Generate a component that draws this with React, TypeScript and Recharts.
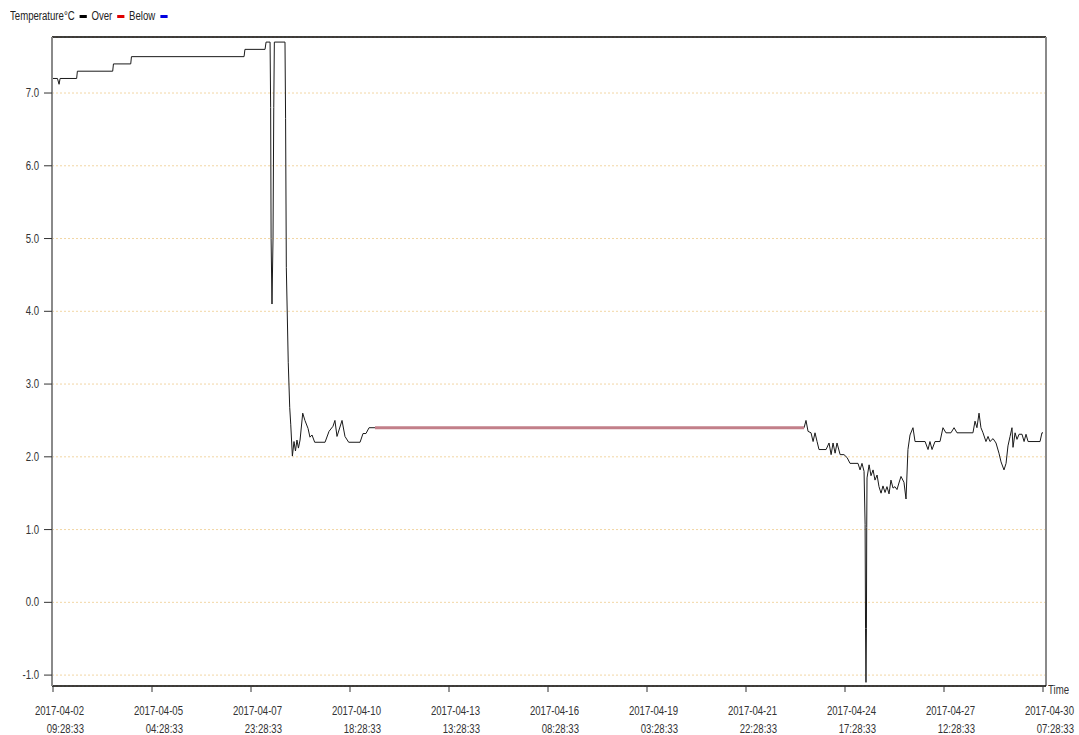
import { LineChart, Line, XAxis, YAxis, CartesianGrid, ReferenceLine } from 'recharts';

// hours since 2017-04-02 09:28:33
const hours = [
  0, 3, 4.1, 4.8, 16, 16.5, 40.4, 40.9, 52.6, 53.1, 129.3, 129.9, 143.5, 144.2, 146.9,
  147.3, 147.6, 148.2, 148.9, 149.4, 149.8, 157.0, 157.4, 157.9, 159.2, 160.2, 160.9, 162.0,
  163.1, 164.1, 165.1, 166.1, 167.2, 169.0, 170.5, 172.6, 173.9, 175.3, 177.1, 184.1, 186.8,
  189.5, 190.8, 192.2, 195.6, 197.6, 200.1, 207.8, 209.8, 211.8, 213.9, 217.9, 508.3,
  509.6, 511.0, 513.0, 514.4, 515.7, 517.1, 518.4, 523.2, 525.2, 526.6, 527.9, 529.3, 530.6,
  532.7, 535.3, 537.4, 539.4, 544.8, 546.2, 547.5, 548.9, 549.6, 549.9, 550.2, 550.5, 550.7,
  550.9, 552.3, 553.6, 555.0, 556.3, 557.7, 559.0, 560.4, 561.7, 563.1, 564.4, 565.8, 567.1,
  568.5, 569.8, 571.2, 572.5, 573.9, 575.9, 577.3, 578.6, 580.0, 582.0, 583.4, 590.2, 592.2,
  593.5, 594.9, 596.9, 600.3, 602.3, 604.3, 607.7, 609.8, 611.8, 622.6, 624.0, 625.3, 626.7,
  628.0, 629.4, 631.4, 632.8, 634.1, 636.2, 638.2, 640.2, 641.6, 643.6, 645.0, 646.3, 647.7,
  649.0, 649.7, 651.1, 652.4, 653.8, 655.8, 657.2, 658.5, 659.9, 668.0, 669.3, 670,
];

const temps = [
  7.2, 7.2, 7.12, 7.2, 7.2, 7.3, 7.3, 7.4, 7.4, 7.5, 7.5, 7.6, 7.6, 7.7, 7.7,
  6.8, 5.0, 4.1, 5.0, 6.8, 7.7, 7.7, 6.65, 4.6, 3.3, 2.68, 2.44, 2.01,
  2.21, 2.08, 2.23, 2.12, 2.23, 2.6, 2.5, 2.39, 2.27, 2.3, 2.2, 2.2, 2.35,
  2.42, 2.5, 2.28, 2.5, 2.28, 2.2, 2.2, 2.32, 2.32, 2.4, 2.4, 2.4,
  2.5, 2.35, 2.33, 2.21, 2.33, 2.21, 2.1, 2.1, 2.19, 2.03, 2.19, 2.05, 2.19,
  2.03, 2.03, 1.99, 1.91, 1.91, 1.82, 1.91, 1.8, 1.07, -0.36, -1.1, -0.36, 1.03,
  1.71, 1.89, 1.74, 1.82, 1.68, 1.75, 1.59, 1.5, 1.6, 1.51, 1.59, 1.49, 1.68,
  1.57, 1.59, 1.55, 1.64, 1.73, 1.65, 1.42, 2.1, 2.3, 2.4, 2.21, 2.21, 2.1,
  2.21, 2.1, 2.21, 2.21, 2.4, 2.33, 2.33, 2.4, 2.33, 2.33, 2.49, 2.4, 2.6,
  2.4, 2.33, 2.21, 2.28, 2.21, 2.25, 2.19, 2.05, 1.93, 1.82, 1.91, 2.15, 2.28,
  2.4, 2.13, 2.33, 2.24, 2.31, 2.31, 2.21, 2.31, 2.21, 2.21, 2.33, 2.33,
];

// highlighted flat stretch
const overHours = [217.9, 508.3];
const overTemps = [2.4, 2.4];

const tickHours = [0, 67, 134, 201, 268, 335, 402, 469, 536, 603, 670];
const tickDates = ['2017-04-02', '2017-04-05', '2017-04-07', '2017-04-10', '2017-04-13', '2017-04-16', '2017-04-19', '2017-04-21', '2017-04-24', '2017-04-27', '2017-04-30'];
const tickTimes = ['09:28:33', '04:28:33', '23:28:33', '18:28:33', '13:28:33', '08:28:33', '03:28:33', '22:28:33', '17:28:33', '12:28:33', '07:28:33'];
const yTicks = [-1, 0, 1, 2, 3, 4, 5, 6, 7];

const data = hours.map((h, i) => ({ h, t: temps[i] }));
const overData = overHours.map((h, i) => ({ h, t: overTemps[i] }));

const FONT = "'Liberation Sans Narrow', 'Arial Narrow', 'Liberation Sans', Arial, sans-serif";
const SQUEEZE = 0.8; // no narrow font installed, squeeze horizontally

function TimeTick(props: any) {
  const { x, y, index } = props;
  return (
    <g fontSize={12} fill="#333" fontFamily={FONT}>
      <text transform={`translate(${x + 31},${y + 21}) scale(${SQUEEZE},1)`} textAnchor="end">{tickDates[index]}</text>
      <text transform={`translate(${x + 31},${y + 39}) scale(${SQUEEZE},1)`} textAnchor="end">{tickTimes[index]}</text>
    </g>
  );
}

function TempTick(props: any) {
  const { x, y, payload } = props;
  return (
    <text transform={`translate(${x},${y + 4}) scale(${SQUEEZE},1)`} textAnchor="end" fontSize={12} fill="#333" fontFamily={FONT}>
      {Number(payload.value).toFixed(1)}
    </text>
  );
}

function Dash({ color }: { color: string }) {
  return <span style={{ display: 'inline-block', width: 9, height: 3, background: color, margin: '0 6px', verticalAlign: 'middle' }} />;
}

export default function App() {
  return (
    <div style={{ position: 'absolute', left: 0, top: 0, width: 1079, height: 735, background: '#fff', fontFamily: FONT }}>
      <div style={{ position: 'absolute', left: 10, top: 9, fontSize: 12, color: '#222', whiteSpace: 'nowrap', transform: `scaleX(${SQUEEZE})`, transformOrigin: 'left top' }}>
        Temperature°C<Dash color="#000" />Over<Dash color="#e00000" />Below<Dash color="#0000e0" />
      </div>
      <div style={{ position: 'absolute', left: 1048, top: 683, fontSize: 12, color: '#333', transform: `scaleX(${SQUEEZE})`, transformOrigin: 'left top' }}>Time</div>
      <LineChart width={1079} height={735} data={data} margin={{ top: 37, right: 33, left: 0, bottom: 0 }}>
        <CartesianGrid horizontal vertical={false} stroke="#f2d6a4" strokeDasharray="2 2" />
        <XAxis
          type="number"
          dataKey="h"
          domain={[-0.68, 672.03]}
          ticks={tickHours}
          tick={<TimeTick />}
          tickSize={6}
          height={49}
          axisLine={{ stroke: '#000', strokeWidth: 1.5 }}
          tickLine={{ stroke: '#333' }}
          interval={0}
        />
        <YAxis
          type="number"
          domain={[-1.15, 7.77]}
          ticks={yTicks}
          width={52}
          tickSize={8}
          tickMargin={5}
          axisLine={{ stroke: '#8a8a8a', strokeWidth: 2 }}
          tickLine={{ stroke: '#333' }}
          tick={<TempTick />}
          interval={0}
        />
        <ReferenceLine y={7.77} stroke="#000" strokeWidth={1.5} />
        <ReferenceLine x={672.03} stroke="#8a8a8a" strokeWidth={2} />
        <Line type="linear" dataKey="t" stroke="#1a1a1a" strokeWidth={1} dot={false} isAnimationActive={false} />
        <Line type="linear" data={overData} dataKey="t" stroke="#c27f89" strokeWidth={3} dot={false} isAnimationActive={false} />
      </LineChart>
    </div>
  );
}
